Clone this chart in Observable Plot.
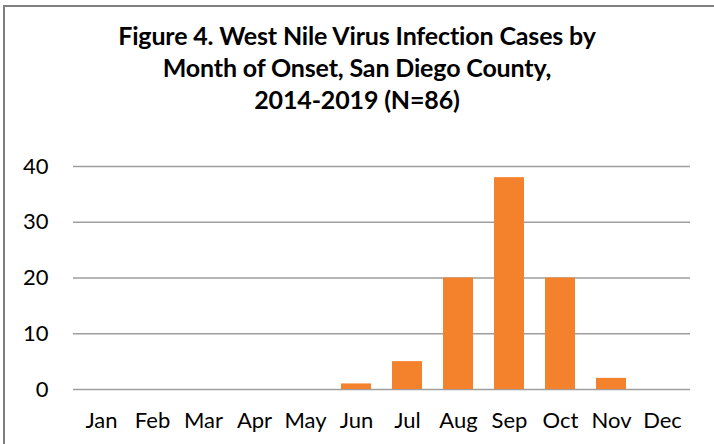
<!DOCTYPE html>
<html>
<head>
<meta charset="utf-8">
<script src="https://cdn.jsdelivr.net/npm/d3@7"></script>
<script src="https://cdn.jsdelivr.net/npm/@observablehq/plot@0.6"></script>
<style>
  html, body { margin: 0; padding: 0; background: #fff; }
  #wrap { position: relative; width: 714px; height: 444px; overflow: hidden; font-family: Lato, "Open Sans", sans-serif; }
  #frame { position: absolute; left: 3px; top: 5px; width: 730px; height: 460px; border-left: 2px solid #7f7f7f; border-top: 2px solid #7f7f7f; box-sizing: border-box; }
  #title { position: absolute; left: 0; top: 0; width: 714px; height: 150px; text-align: center; font-weight: bold; font-size: 25px; line-height: 32px; color: #000; padding-top: 19px; box-sizing: border-box; letter-spacing: -0.15px; }
  #chart { position: absolute; left: 0; top: 150px; }
</style>
</head>
<body>
<div id="wrap">
  <div id="frame"></div>
  <div id="title">Figure 4. West Nile Virus Infection Cases by<br>Month of Onset, San Diego County,<br>2014-2019 (N=86)</div>
  <div id="chart"></div>
</div>
<script>
const months = ["Jan","Feb","Mar","Apr","May","Jun","Jul","Aug","Sep","Oct","Nov","Dec"];
const cases  = [0, 0, 0, 0, 0, 1, 5, 20, 38, 20, 2, 0];
const yTicks = [0, 10, 20, 30, 40];

const data = months.map((m, i) => ({month: m, cases: cases[i]}));

const chart = Plot.plot({
  width: 714,
  height: 294,
  marginLeft: 73,
  marginRight: 24,
  marginTop: 16,
  marginBottom: 55,
  style: {fontFamily: "Lato, 'Open Sans', sans-serif", fontSize: "22px", color: "#000", background: "transparent"},
  x: {domain: months, paddingInner: 0.42, paddingOuter: 0.21, label: null, tickSize: 0, tickPadding: 23},
  y: {domain: [0, 40], ticks: yTicks, label: null, tickSize: 0, tickPadding: 25},
  marks: [
    Plot.ruleY(yTicks, {stroke: "#9e9e9e", strokeWidth: 1.6}),
    Plot.barY(data, {x: "month", y: "cases", fill: "#f4812b"})
  ]
});
document.getElementById("chart").appendChild(chart);
</script>
</body>
</html>
